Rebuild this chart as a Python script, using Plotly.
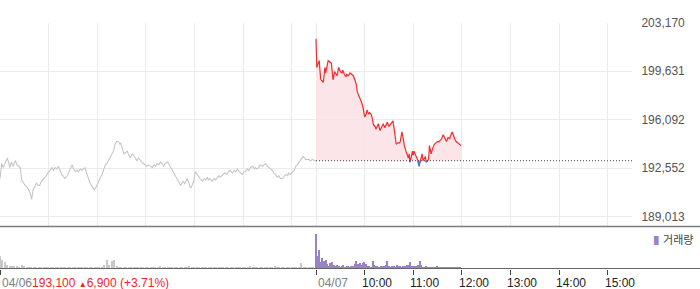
import plotly.graph_objects as go

# ---------------- data ----------------
prev_close = 193100
close_price_text = "193,100"
change_text = "6,900 (+3.71%)"
day1_label, day2_label = "04/06", "04/07"
hour_labels = ["10:00", "11:00", "12:00", "13:00", "14:00", "15:00"]
price_ticks = [189013, 192552, 196092, 199631, 203170]

# 04/06 intraday (minutes after 09:00, price)
day1_min = [0, 2, 4, 6, 9, 11, 12, 14, 16, 19, 21, 23, 25, 27, 29, 31, 33, 35, 37, 39,
            41, 43, 45, 47, 49, 51, 54, 57, 60, 62, 64, 66, 68, 70, 72, 74, 76, 78, 80, 83,
            85, 87, 89, 91, 93, 95, 97, 99, 101, 103, 105, 107, 109, 111, 113, 116, 118, 120, 122, 124,
            126, 128, 130, 132, 134, 136, 138, 140, 142, 144, 146, 148, 149, 151, 153, 155, 157, 159, 161, 163,
            165, 167, 169, 171, 173, 175, 177, 179, 181, 183, 186, 188, 190, 192, 194, 196, 198, 200, 202, 204,
            207, 209, 210, 212, 214, 216, 219, 221, 223, 225, 226, 228, 231, 233, 235, 237, 239, 241, 243, 245,
            247, 250, 252, 254, 256, 257, 259, 262, 264, 266, 268, 270, 272, 275, 277, 278, 280, 282, 284, 287,
            289, 291, 293, 294, 297, 299, 301, 303, 305, 307, 309, 312, 314, 315, 317, 319, 321, 324, 326, 328,
            330, 332, 334, 336, 338, 340, 342, 344, 346, 349, 351, 353, 355, 356, 358, 361, 363, 365, 367, 369,
            371, 374, 376, 377, 379, 381, 383, 386, 388, 390]
day1_price = [191800, 192900, 192600, 192900, 193300, 192900, 192600, 193000, 192700, 193100,
              192800, 192700, 192600, 191600, 191500, 191300, 191200, 191000, 190800, 190300,
              191000, 191200, 191500, 191300, 191300, 191600, 191800, 192000, 192300, 192400,
              192600, 192400, 192600, 192500, 192700, 192400, 192100, 192000, 191800, 192000,
              192300, 192500, 192800, 192500, 192300, 192400, 192300, 192500, 192400, 192500,
              192600, 192200, 191800, 191500, 191300, 191000, 191100, 191400, 191700, 191900,
              192100, 192500, 192800, 192900, 193100, 193300, 193500, 193800, 194300, 194500,
              194500, 194300, 194400, 194000, 193600, 193700, 193800, 193500, 193300, 193600,
              193500, 193300, 193100, 193300, 193100, 193000, 192900, 192800, 192700, 192800,
              192700, 192600, 192800, 192700, 192900, 192800, 193000, 192900, 192700, 192900,
              193000, 192800, 192700, 192500, 192300, 192000, 191800, 191500, 191300, 191500,
              191600, 191400, 191800, 191500, 191100, 191300, 191600, 192300, 192100, 192000,
              191800, 191600, 191800, 191700, 191900, 191700, 191800, 191600, 191800, 191700,
              191900, 192000, 191900, 192100, 192200, 192200, 192100, 192300, 192400, 192200,
              192400, 192300, 192500, 192400, 192200, 192100, 192300, 192300, 192500, 192400,
              192600, 192700, 192500, 192600, 192500, 192600, 192800, 192700, 192800, 192900,
              192700, 192600, 192500, 192400, 192200, 192100, 191900, 192000, 191800, 191800,
              192000, 192100, 192000, 192200, 192100, 192300, 192400, 192700, 192800, 193000,
              193200, 193400, 193300, 193200, 193200, 193200, 193100, 193200, 193100, 193100]

# 04/07 intraday (minutes after 09:00, price)
day2_min = [0, 1, 2, 4, 5, 6, 8, 9, 11, 12, 14, 15, 17, 19, 21, 23, 24, 26, 28, 30,
            32, 33, 35, 37, 38, 40, 42, 44, 46, 48, 50, 51, 53, 55, 56, 58, 60, 62, 63, 65,
            66, 68, 69, 71, 73, 74, 76, 77, 79, 81, 83, 85, 87, 88, 90, 92, 93, 95, 97, 99,
            101, 103, 104, 106, 108, 109, 111, 113, 114, 115, 116, 118, 119, 120, 121, 123, 124, 126, 127, 129,
            131, 132, 134, 135, 136, 138, 139, 140, 142, 144, 146, 148, 150, 152, 154, 155, 157, 159, 161, 163,
            165, 166, 168, 170, 171, 173, 175, 176, 178, 179]
day2_price = [202000, 199900, 200100, 200400, 199600, 199000, 198900, 198800, 199900, 199500,
              200100, 200400, 200300, 200200, 199000, 199600, 199500, 199300, 199900, 199600,
              199500, 199700, 199400, 199200, 199400, 199300, 199500, 199400, 199300, 199000,
              198600, 198100, 197800, 197600, 197400, 197000, 196300, 196500, 196800, 196500,
              196600, 196500, 196300, 195700, 195600, 195400, 195600, 195800, 195300, 195500,
              195800, 195500, 195700, 195900, 195600, 195800, 195900, 196000, 195200, 194300,
              194400, 194400, 194500, 195200, 194600, 194200, 193800, 193500, 193300, 193600,
              193000, 193500, 193800, 193500, 193800, 193500, 193400, 193100, 192700, 193200,
              193600, 193100, 193300, 193400, 193000, 193100, 193200, 194200, 193600, 194000,
              194300, 194400, 194500, 194500, 194600, 194700, 195000, 194800, 194500, 194800,
              194700, 194900, 195200, 194900, 194700, 194500, 194400, 194300, 194200, 194200]

# volume bars: 04/06 every 3 minutes, 04/07 every 2 minutes
day1_vol_step, day2_vol_step = 3, 2
day1_vol = [18200, 12600, 9800, 5600, 4200, 4200, 4200, 4200, 2800, 5600,
            4200, 2800, 1400, 2800, 2800, 1400, 2800, 1400, 2800, 1400,
            2800, 1400, 2800, 1400, 1400, 2800, 1400, 1400, 2800, 1400,
            1400, 1400, 1400, 2800, 1400, 1400, 1400, 1400, 1400, 1400,
            2800, 2800, 2800, 5600, 12600, 5600, 11200, 12600, 4200, 2800,
            2800, 1400, 2800, 1400, 1400, 1400, 1400, 1400, 1400, 1400,
            1400, 1400, 1400, 1400, 1400, 1400, 4200, 1400, 1400, 1400,
            1400, 1400, 1400, 1400, 1400, 1400, 2800, 1400, 4200, 1400,
            1400, 1400, 2800, 1400, 1400, 1400, 1400, 2800, 1400, 1400,
            1400, 1400, 1400, 1400, 1400, 2800, 1400, 1400, 1400, 1400,
            1400, 1400, 2800, 4200, 2800, 1400, 1400, 1400, 2800, 1400,
            1400, 1400, 1400, 4200, 1400, 1400, 1400, 2800, 1400, 1400,
            1400, 1400, 1400, 1400, 8400, 1400, 1400, 1400, 1400, 1400]
day2_vol = [50400, 18200, 26600, 9800, 15400, 11200, 12600, 7000, 4200, 8400,
            9800, 5600, 4200, 5600, 4200, 2800, 4200, 5600, 1400, 4200,
            4200, 2800, 4200, 4200, 7000, 11200, 7000, 8400, 5600, 8400,
            9800, 7000, 4200, 4200, 2800, 11200, 5600, 4200, 4200, 2800,
            4200, 4200, 4200, 5600, 11200, 4200, 2800, 4200, 4200, 2800,
            5600, 4200, 4200, 2800, 4200, 4200, 5600, 5600, 9800, 4200,
            4200, 4200, 4200, 5600, 11200, 5600, 2800, 2800, 4200, 1400,
            2800, 1400, 2800, 1400, 2800, 4200, 1400, 1400, 1400, 2800,
            1400, 1400, 1400, 1400, 1400, 2800, 1400, 1400, 1400, 1400]

# ---------------- helpers ----------------
SESSION = 6.5  # hours 09:00-15:30


def pos(day, minute):
    return day * SESSION + minute / 60.0


x1 = [pos(0, m) for m in day1_min]
x2 = [pos(1, m) for m in day2_min]
xv1 = [pos(0, i * day1_vol_step) for i in range(len(day1_vol))]
xv2 = [pos(1, i * day2_vol_step) for i in range(len(day2_vol))]

# blue segments where the price is below the previous close
bx, by = [], []
for i in range(len(x2) - 1):
    xa, ya, xb, yb = x2[i], day2_price[i], x2[i + 1], day2_price[i + 1]
    if ya >= prev_close and yb >= prev_close:
        continue
    if ya < prev_close and yb < prev_close:
        bx += [xa, xb, None]
        by += [ya, yb, None]
    else:
        xc = xa + (prev_close - ya) / (yb - ya) * (xb - xa)
        if ya < prev_close:
            bx += [xa, xc, None]
            by += [ya, prev_close, None]
        else:
            bx += [xc, xb, None]
            by += [prev_close, yb, None]

W, H = 700, 289
PLOT_RIGHT = 632 / W
PRICE_TOP, PRICE_BOT = 1 - 16 / H, 1 - 225 / H
VOL_BOT = 1 - 268 / H
price_range = [price_ticks[0] - (price_ticks[1] - price_ticks[0]) * 10 / 49.75, price_ticks[-1]]

FONT = "Liberation Sans, Arial, 'Noto Sans CJK KR', sans-serif"

fig = go.Figure()

# price panel
fig.add_trace(go.Scatter(x=x1, y=day1_price, mode="lines",
                         line=dict(color="#c6c6ca", width=1.1), hoverinfo="skip"))
fig.add_trace(go.Scatter(x=x2, y=[prev_close] * len(x2), mode="lines",
                         line=dict(width=0), hoverinfo="skip"))
fig.add_trace(go.Scatter(x=x2, y=day2_price, mode="lines", fill="tonexty",
                         fillcolor="rgba(252,224,228,0.85)",
                         line=dict(color="#f52a2a", width=1.2), hoverinfo="skip"))
fig.add_trace(go.Scatter(x=bx, y=by, mode="lines",
                         line=dict(color="#3a7de0", width=1.4), hoverinfo="skip"))
fig.add_trace(go.Scatter(x=[SESSION, 2 * SESSION], y=[prev_close, prev_close], mode="lines",
                         line=dict(color="#444444", width=1, dash="1px,2px"), hoverinfo="skip"))

# volume panel
fig.add_trace(go.Bar(x=xv1, y=day1_vol, width=0.028, marker=dict(color="#c6c8cc", line=dict(width=0)),
                     xaxis="x2", yaxis="y2", hoverinfo="skip"))
fig.add_trace(go.Bar(x=xv2, y=day2_vol, width=0.028, marker=dict(color="#9783c6", line=dict(width=0)),
                     xaxis="x2", yaxis="y2", hoverinfo="skip"))

grid_vals = [h for h in range(0, 7)] + [SESSION + h for h in range(0, 7)]
tick_vals = [0, SESSION] + [SESSION + h for h in range(1, 7)]

fig.update_layout(
    width=W, height=H,
    margin=dict(l=0, r=0, t=0, b=0),
    paper_bgcolor="white", plot_bgcolor="white",
    showlegend=False, bargap=0,
    font=dict(family=FONT, size=12, color="#555"),
    xaxis=dict(domain=[0, PLOT_RIGHT], range=[0, 2 * SESSION], anchor="y",
               tickvals=grid_vals, showticklabels=False, ticks="",
               showgrid=True, gridcolor="#ebebeb", gridwidth=1, zeroline=False, showline=False),
    yaxis=dict(domain=[PRICE_BOT, PRICE_TOP], range=price_range, side="right", anchor="x",
               tickvals=price_ticks, ticktext=[f"{v:,}" for v in price_ticks],
               ticks="outside", ticklen=6, tickcolor="rgba(0,0,0,0)",
               tickfont=dict(size=12, color="#555"),
               showgrid=True, gridcolor="#ebebeb", gridwidth=1, zeroline=False, showline=False),
    xaxis2=dict(domain=[0, PLOT_RIGHT], range=[0, 2 * SESSION], anchor="y2", matches="x",
                tickvals=tick_vals, showticklabels=False, ticks="outside", ticklen=5,
                tickcolor="#444", tickwidth=1, showgrid=False, zeroline=False, showline=False),
    yaxis2=dict(domain=[VOL_BOT, PRICE_BOT], range=[0, 60200], anchor="x2",
                showticklabels=False, showgrid=False, zeroline=False, ticks=""),
)

# panel divider and bottom axis line
fig.add_shape(type="line", xref="paper", yref="paper", x0=0, x1=1, y0=PRICE_BOT, y1=PRICE_BOT,
              line=dict(color="#7d7d7d", width=1.5))
fig.add_shape(type="line", xref="paper", yref="paper", x0=0, x1=1, y0=VOL_BOT, y1=VOL_BOT,
              line=dict(color="#666", width=1))

label_y = 1 - 283 / H
fig.add_annotation(x=0, y=label_y, xref="x2", yref="paper", xanchor="left", yanchor="middle",
                   showarrow=False,
                   text=f"<span style='color:#808080'>{day1_label}</span>"
                        f"<span style='color:#f01e1e'>{close_price_text} "
                        f"<span style='font-size:8px'>▲</span>{change_text}</span>",
                   font=dict(size=12, family=FONT))
fig.add_annotation(x=SESSION, y=label_y, xref="x2", yref="paper", xanchor="left", yanchor="middle",
                   showarrow=False, text=day2_label, font=dict(size=12, color="#808080", family=FONT))
for h, lab in enumerate(hour_labels, start=1):
    fig.add_annotation(x=SESSION + h, y=label_y, xref="x2", yref="paper", xanchor="left",
                       yanchor="middle", xshift=-5, showarrow=False, text=lab,
                       font=dict(size=12, color="#222", family=FONT))

fig.add_annotation(x=652 / W, y=1 - 238 / H, xref="paper", yref="paper", xanchor="left",
                   yanchor="middle", showarrow=False,
                   text="<span style='color:#9783c6;font-size:9px'>▌</span>"
                        "<span style='font-size:11px'>거래량</span>",
                   font=dict(color="#444", family="'Noto Sans CJK KR', " + FONT))

fig.write_html("out.html")
